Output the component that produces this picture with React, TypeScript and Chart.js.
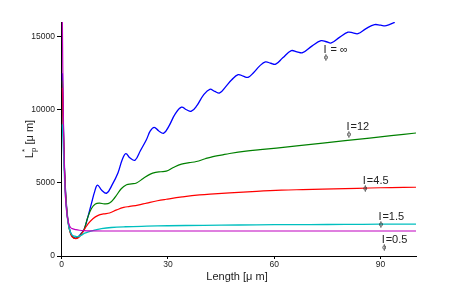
import React, { useEffect, useRef } from "react";
import { Chart, registerables } from "chart.js";

Chart.register(...registerables);

// ---- data ----
const xTicks = [0, 30, 60, 90];
const yTicks = [0, 5000, 10000, 15000];

const blueX = [0.2, 0.6, 1, 1.5, 2, 2.5, 3, 3.8, 4.6, 5.5, 6.3, 7.2, 8.4, 9.3, 10.1, 11.3, 12.7, 14.3, 15.9, 17.1, 18.1, 19.3, 20.7, 22.2, 23.9, 25, 26.1, 27.4, 28.8, 30.3, 32, 33.8, 35.2, 36.6, 38.2, 40, 41.8, 43.2, 44.6, 46.2, 48, 49.8, 51.2, 52.6, 54.2, 55.9, 57.5, 59, 60.4, 62.4, 64.8, 66.4, 68, 70.6, 73.2, 74.7, 76.1, 78.4, 80.8, 82.2, 83.6, 85.9, 88.3, 90, 91.6, 94];
const blueY = [12500, 7500, 4800, 3000, 2100, 1600, 1350, 1220, 1300, 1550, 1800, 2500, 3600, 4400, 4850, 4500, 4300, 4900, 5700, 6600, 7000, 6700, 6550, 7200, 7950, 8550, 8800, 8550, 8400, 8900, 9700, 10180, 10000, 9900, 10300, 11000, 11400, 11250, 11150, 11550, 12050, 12400, 12300, 12220, 12550, 13000, 13270, 13180, 13120, 13550, 14040, 13960, 13900, 14350, 14720, 14650, 14570, 14950, 15300, 15260, 15200, 15550, 15820, 15780, 15750, 15980];

const greenX = [0.2, 0.6, 1, 1.5, 2, 2.5, 3, 3.8, 4.6, 5.5, 6.3, 7.3, 8.4, 9.5, 10.7, 12, 13.5, 15, 16.8, 18.3, 19.7, 21.1, 23, 25, 26.5, 28, 29.5, 31.5, 33.8, 36, 38, 40.5, 42.7, 45, 47.4, 52, 56, 60.6, 67, 73.7, 80, 86.9, 93, 100];
const greenY = [12000, 7400, 4700, 2950, 2050, 1570, 1330, 1200, 1280, 1500, 1800, 2600, 3250, 3550, 3610, 3570, 3620, 4000, 4600, 4870, 4930, 4990, 5300, 5600, 5720, 5760, 5800, 6050, 6280, 6380, 6460, 6650, 6800, 6900, 7010, 7170, 7270, 7380, 7550, 7720, 7890, 8060, 8230, 8410];

const redX = [0.2, 0.6, 1, 1.5, 2, 2.5, 3, 3.9, 4.8, 5.6, 6.3, 7.3, 8.8, 10.3, 11.8, 13.5, 15.5, 17.5, 19.2, 21.5, 24, 27, 29.5, 34, 38.9, 43, 47.4, 55, 62, 68, 73.7, 80, 87, 93, 100];
const redY = [11500, 7300, 4600, 2900, 2000, 1520, 1290, 1190, 1270, 1500, 1780, 2150, 2550, 2780, 2880, 2940, 3150, 3320, 3390, 3480, 3620, 3780, 3880, 4040, 4180, 4250, 4310, 4420, 4500, 4540, 4570, 4610, 4650, 4680, 4700];

const cyanX = [0.2, 0.6, 1, 1.5, 2, 2.5, 3, 3.8, 4.6, 5.4, 6.5, 8, 9.5, 11.2, 14, 18, 24, 30, 40, 50, 60, 70, 80, 90, 100];
const cyanY = [9000, 6500, 4300, 2800, 2000, 1600, 1420, 1350, 1330, 1400, 1560, 1680, 1780, 1870, 1950, 2000, 2040, 2070, 2100, 2120, 2140, 2150, 2160, 2175, 2185];

const magentaX = [0.15, 0.5, 1, 1.5, 2, 2.5, 3, 4, 5, 6.3, 8, 12, 100];
const magentaY = [17000, 9000, 4300, 2800, 2200, 1950, 1870, 1800, 1760, 1730, 1715, 1710, 1710];

const labelX = [73.9, 80.4, 85.0, 89.4, 90.3];
const labelY = [13865, 8618, 4925, 2462, 869];
const labelText = [" = \u221E", "=12", "=4.5", "=1.5", "=0.5"];

const FONT = '"Liberation Sans", Arial, sans-serif';

function pts(xs: number[], ys: number[]) {
  return xs.map((x, i) => ({ x, y: ys[i] }));
}

const annotPlugin = {
  id: "annot",
  afterDraw(chart: any) {
    const ctx = chart.ctx;
    const xs = chart.scales.x;
    const ys = chart.scales.y;
    ctx.save();
    ctx.fillStyle = "#222";
    ctx.textBaseline = "alphabetic";
    ctx.textAlign = "left";
    for (let i = 0; i < labelX.length; i++) {
      const px = xs.getPixelForValue(labelX[i]);
      const py = ys.getPixelForValue(labelY[i]);
      ctx.font = `11px ${FONT}`;
      ctx.fillText("I", px, py);
      ctx.font = `7px ${FONT}`;
      ctx.fillText("\u03D5", px + 0.5, py + 6);
      ctx.font = `11px ${FONT}`;
      ctx.fillText(labelText[i], px + 4, py);
    }
    // x title
    ctx.textAlign = "center";
    ctx.font = `11px ${FONT}`;
    ctx.fillText("Length [\u03BC m]", 237, 280);
    // y title
    ctx.translate(29, 139);
    ctx.rotate(-Math.PI / 2);
    ctx.textAlign = "left";
    const main = "L";
    const rest = " [\u03BC m]";
    ctx.font = `11px ${FONT}`;
    const wL = ctx.measureText(main).width;
    const wR = ctx.measureText(rest).width;
    ctx.font = `8px ${FONT}`;
    const wS = ctx.measureText("p").width;
    const total = wL + wS + wR;
    let cx = -total / 2;
    ctx.font = `11px ${FONT}`;
    ctx.fillText(main, cx, 4);
    cx += wL;
    ctx.font = `8px ${FONT}`;
    ctx.fillText("p", cx, 7);
    ctx.fillText("*", cx, -2);
    cx += wS;
    ctx.font = `11px ${FONT}`;
    ctx.fillText(rest, cx, 4);
    ctx.restore();
  },
};

export default function App() {
  const ref = useRef<HTMLCanvasElement>(null);
  useEffect(() => {
    if (!ref.current) return;
    const mk = (label: string, xs: number[], ys: number[], color: string, w: number) => ({
      label,
      data: pts(xs, ys),
      borderColor: color,
      backgroundColor: color,
      borderWidth: w,
      pointRadius: 0,
      tension: 0.4,
      fill: false,
    });
    const chart = new Chart(ref.current, {
      type: "line",
      data: {
        datasets: [
          mk("0.5", magentaX, magentaY, "#bf00bf", 1.2),
          mk("1.5", cyanX, cyanY, "#00bfbf", 1.3),
          mk("4.5", redX, redY, "#ff0000", 1.2),
          mk("12", greenX, greenY, "#008000", 1.2),
          mk("inf", blueX, blueY, "#0000ff", 1.3),
        ],
      },
      options: {
        animation: false,
        responsive: false,
        events: [],
        layout: { padding: { left: 0, top: 22, right: 43, bottom: 0 } },
        plugins: { legend: { display: false }, tooltip: { enabled: false } },
        scales: {
          x: {
            type: "linear",
            min: -0.2,
            max: 100,
            afterBuildTicks: (s: any) => {
              s.ticks = xTicks.map((v) => ({ value: v }));
            },
            afterFit: (s: any) => {
              s.height = 32;
            },
            grid: { drawOnChartArea: false, drawTicks: true, tickLength: 3, color: "#000" },
            border: { display: true, color: "#000", width: 1 },
            ticks: {
              color: "#222",
              font: { family: FONT, size: 8.5 },
              padding: 1,
              maxRotation: 0,
              callback: (v: any) => String(v),
            },
          },
          y: {
            type: "linear",
            min: 0,
            max: 16000,
            afterBuildTicks: (s: any) => {
              s.ticks = yTicks.map((v) => ({ value: v }));
            },
            afterFit: (s: any) => {
              s.width = 61;
            },
            grid: { drawOnChartArea: false, drawTicks: true, tickLength: 4, color: "#000" },
            border: { display: true, color: "#000", width: 1 },
            ticks: {
              color: "#222",
              font: { family: FONT, size: 8.5 },
              padding: 2,
              callback: (v: any) => String(v),
            },
          },
        },
      },
      plugins: [annotPlugin],
    });
    return () => chart.destroy();
  }, []);
  return (
    <div style={{ position: "absolute", left: 0, top: 0, width: 459, height: 288, background: "#fff" }}>
      <canvas ref={ref} width={459} height={288} style={{ display: "block" }} />
    </div>
  );
}
